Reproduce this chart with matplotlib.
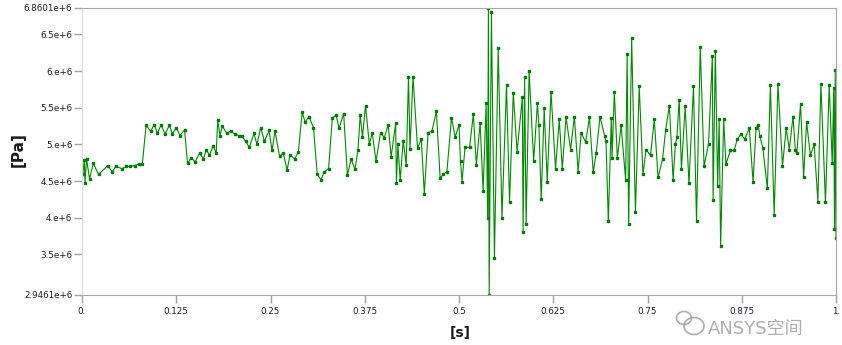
# Pressure history [Pa] vs time [s]

import numpy as np
import matplotlib.pyplot as plt
from matplotlib.patches import Ellipse

plt.rcParams['font.family'] = ['DejaVu Sans', 'Noto Sans CJK SC']

# Data
time = [0.001, 0.003, 0.004, 0.006, 0.010, 0.015, 0.022, 0.034, 0.040, 0.045,
        0.053, 0.059, 0.064, 0.070, 0.075, 0.080, 0.085, 0.091, 0.096, 0.100,
        0.105, 0.110, 0.116, 0.120, 0.125, 0.130, 0.136, 0.140, 0.145, 0.150,
        0.156, 0.161, 0.165, 0.169, 0.174, 0.178, 0.180, 0.183, 0.186, 0.192,
        0.197, 0.203, 0.208, 0.212, 0.217, 0.222, 0.228, 0.232, 0.237, 0.242,
        0.248, 0.252, 0.256, 0.262, 0.267, 0.272, 0.276, 0.282, 0.287, 0.292,
        0.296, 0.301, 0.307, 0.312, 0.317, 0.321, 0.327, 0.332, 0.337, 0.341,
        0.347, 0.352, 0.357, 0.362, 0.366, 0.369, 0.372, 0.376, 0.381, 0.385,
        0.390, 0.396, 0.401, 0.406, 0.410, 0.416, 0.417, 0.419, 0.422, 0.426,
        0.430, 0.433, 0.435, 0.439, 0.445, 0.450, 0.454, 0.459, 0.464, 0.470,
        0.475, 0.479, 0.484, 0.490, 0.495, 0.500, 0.502, 0.504, 0.508, 0.514,
        0.519, 0.523, 0.528, 0.532, 0.536, 0.538, 0.539, 0.540, 0.543, 0.547,
        0.552, 0.557, 0.563, 0.567, 0.572, 0.577, 0.584, 0.585, 0.587, 0.589,
        0.593, 0.599, 0.604, 0.606, 0.609, 0.613, 0.617, 0.622, 0.628, 0.633,
        0.637, 0.642, 0.648, 0.653, 0.658, 0.662, 0.668, 0.673, 0.678, 0.682,
        0.687, 0.693, 0.695, 0.698, 0.702, 0.703, 0.706, 0.710, 0.715, 0.721,
        0.723, 0.725, 0.729, 0.734, 0.739, 0.744, 0.748, 0.754, 0.759, 0.764,
        0.770, 0.774, 0.779, 0.784, 0.787, 0.789, 0.792, 0.795, 0.800, 0.805,
        0.811, 0.815, 0.820, 0.825, 0.831, 0.836, 0.837, 0.840, 0.843, 0.845,
        0.847, 0.851, 0.854, 0.860, 0.865, 0.869, 0.874, 0.879, 0.885, 0.890,
        0.894, 0.897, 0.899, 0.903, 0.909, 0.913, 0.918, 0.923, 0.929, 0.934,
        0.938, 0.943, 0.946, 0.948, 0.953, 0.957, 0.961, 0.966, 0.971, 0.976,
        0.980, 0.986, 0.991, 0.995, 0.997, 0.998, 0.999, 1.000]

# pressure in MPa (x1e6 Pa)
pres = [4.59, 4.79, 4.48, 4.80, 4.53, 4.74, 4.59, 4.71, 4.63, 4.70,
        4.67, 4.70, 4.70, 4.71, 4.73, 4.73, 5.26, 5.18, 5.27, 5.15,
        5.27, 5.14, 5.26, 5.14, 5.23, 5.12, 5.20, 4.74, 4.82, 4.76,
        4.88, 4.80, 4.93, 4.85, 4.98, 4.88, 5.33, 5.12, 5.25, 5.15,
        5.18, 5.14, 5.12, 5.12, 5.04, 4.96, 5.15, 5.00, 5.23, 5.04,
        5.19, 4.92, 5.18, 4.84, 4.88, 4.65, 4.86, 4.80, 4.90, 5.44,
        5.30, 5.38, 5.23, 4.59, 4.52, 4.62, 4.67, 5.36, 5.40, 5.22,
        5.42, 4.58, 4.80, 4.66, 4.92, 5.40, 5.10, 5.53, 5.01, 5.15,
        4.77, 5.16, 5.09, 5.27, 4.83, 5.29, 4.48, 5.00, 4.51, 5.05,
        4.72, 5.92, 4.94, 5.92, 4.95, 5.07, 4.33, 5.16, 5.18, 5.45,
        4.54, 4.59, 4.63, 5.36, 5.10, 5.27, 4.77, 4.49, 4.96, 4.96,
        5.41, 4.72, 5.29, 4.37, 5.57, 4.00, 6.8601, 2.9461, 6.80, 3.45,
        6.31, 4.00, 5.81, 4.21, 5.70, 4.90, 5.64, 3.81, 5.92, 3.91,
        6.00, 4.77, 5.56, 5.26, 4.25, 5.49, 4.49, 5.72, 4.67, 5.34,
        4.67, 5.37, 4.93, 5.38, 4.63, 5.16, 5.03, 5.37, 4.62, 4.88,
        5.38, 5.12, 5.04, 3.95, 5.36, 4.81, 5.72, 4.81, 5.26, 4.51,
        6.23, 3.91, 6.45, 4.08, 5.79, 4.59, 4.93, 4.85, 5.34, 4.55,
        4.80, 5.19, 5.53, 4.52, 5.00, 5.10, 5.61, 4.66, 5.52, 4.47,
        5.79, 3.96, 6.33, 4.70, 5.01, 6.20, 4.24, 6.28, 4.43, 5.34,
        3.61, 5.34, 4.73, 4.92, 4.92, 5.07, 5.14, 5.07, 5.22, 4.49,
        5.23, 5.26, 5.11, 4.95, 4.40, 5.81, 4.04, 5.83, 4.71, 5.22,
        4.93, 5.38, 4.93, 4.88, 5.55, 4.55, 5.31, 4.85, 5.00, 4.22,
        5.83, 4.21, 5.81, 4.74, 5.77, 3.85, 6.02, 3.72]

xticks = [0, 0.125, 0.25, 0.375, 0.5, 0.625, 0.75, 0.875, 1.0]
xlabels = ['0.', '0.125', '0.25', '0.375', '0.5', '0.625', '0.75', '0.875', '1.']
yticks = [2.9461e6, 3.5e6, 4e6, 4.5e6, 5e6, 5.5e6, 6e6, 6.5e6, 6.8601e6]
ylabels = ['2.9461e+6', '3.5e+6', '4.e+6', '4.5e+6', '5.e+6', '5.5e+6',
           '6.e+6', '6.5e+6', '6.8601e+6']

t = np.array(time)
p = np.array(pres) * 1e6

fig = plt.figure(figsize=(8.42, 3.45), dpi=100)
ax = fig.add_axes([82/842, 1 - 295/345, 754/842, 287/345])

ax.plot(t, p, color='#008a00', lw=0.8, marker='s', ms=2.0,
        mfc='#007a00', mec='#007a00')

ax.set_xlim(0, 1)
ax.set_ylim(2.9461e6, 6.8601e6)
ax.set_xticks(xticks)
ax.set_xticklabels(xlabels)
ax.set_yticks(yticks)
ax.set_yticklabels(ylabels)
ax.tick_params(axis='both', labelsize=6.3, colors='#a0a0a0', labelcolor='#1a1a2a',
               length=6, width=1)
ax.tick_params(axis='x', pad=3)
ax.tick_params(axis='y', pad=1)

for s in ['top', 'right', 'bottom']:
    ax.spines[s].set_color('#a8a8a8')
ax.spines['left'].set_color('#dcdcdc')

fig.text(18/842, 1 - 150/345, '[Pa]', rotation=90, ha='center', va='center',
         fontsize=11, fontweight='bold', color='#1a1a1a')
fig.text(460/842, 1 - 333/345, '[s]', ha='center', va='center',
         fontsize=10, fontweight='bold', color='#1a1a1a')

# watermark
fig.text(708/842, 1 - 329/345, 'ANSYS空间', ha='left', va='center',
         fontsize=13, color='#9a9a9a', alpha=0.8,
         family=['DejaVu Sans', 'Noto Sans CJK SC'])
fig.patches.append(Ellipse((694/842, 1 - 326/345), 20/842, 17/345,
                           transform=fig.transFigure, fill=False,
                           ec='#9a9a9a', lw=1.2, alpha=0.8))
fig.patches.append(Ellipse((684/842, 1 - 318/345), 15/842, 13/345,
                           transform=fig.transFigure, fill=False,
                           ec='#9a9a9a', lw=1.2, alpha=0.8))

fig.savefig('out.png', dpi=100)
